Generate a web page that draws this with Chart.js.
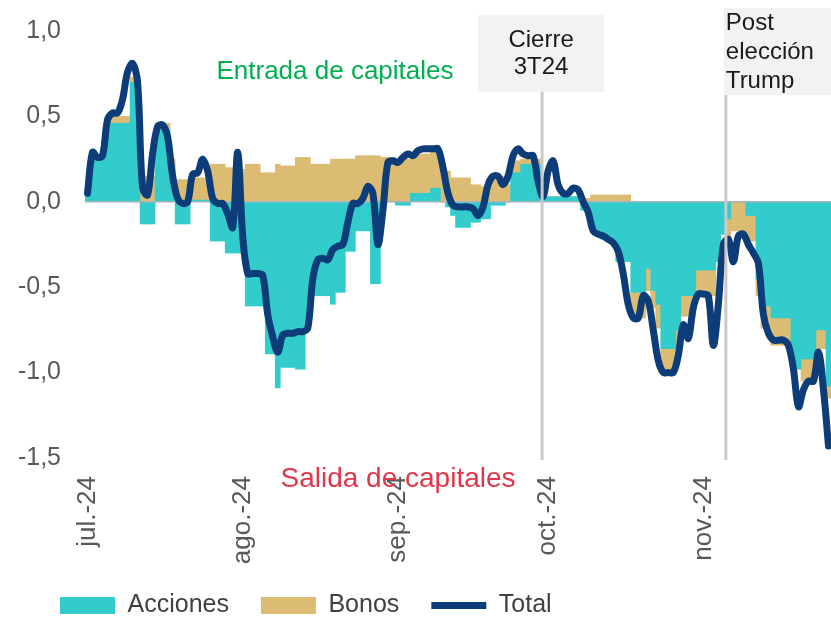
<!DOCTYPE html>
<html>
<head>
<meta charset="utf-8">
<script src="https://cdn.jsdelivr.net/npm/chart.js@4.4.0/dist/chart.umd.min.js"></script>
<style>
  html, body { margin: 0; padding: 0; background: #fff; }
  #wrap { width: 831px; height: 617px; position: relative; }
</style>
</head>
<body>
<div id="wrap"><canvas id="flujosChart"></canvas></div>
<script>
// Flujos diarios jul-24 a nov-24 (mm USD, escala del gráfico)
const etiquetasMes = ["jul.-24", "ago.-24", "sep.-24", "oct.-24", "nov.-24"];

const acciones = [
  // jul
  0.04, 0.27, 0.27, 0.27, 0.46, 0.46, 0.46, 0.46, 0.46, 0.70, 0.70, -0.13, -0.13, -0.13, 0.42, 0.42,
  0.42, 0.20, -0.13, -0.13, -0.13, 0.01, 0.01, 0.01, 0.01, -0.23, -0.23, -0.23, -0.30, -0.30, -0.30,
  // ago
  -0.30, -0.61, -0.61, -0.61, -0.61, -0.89, -0.89, -1.09, -0.97, -0.97, -0.97, -0.98, -0.98, -0.74, -0.55, -0.55,
  -0.55, -0.55, -0.60, -0.53, -0.53, -0.29, -0.29, -0.17, -0.17, -0.17, -0.48, -0.48, 0, 0, 0,
  // sep
  -0.02, -0.02, -0.02, 0.05, 0.05, 0.05, 0.05, 0.08, 0.08, 0, -0.03, -0.08, -0.15, -0.15, -0.15,
  -0.12, -0.12, -0.10, -0.10, -0.02, -0.02, -0.02, 0, 0.17, 0.17, 0.22, 0.22, 0.22, 0.22, 0.03,
  // oct
  0.03, 0.03, 0.03, 0.03, 0.03, 0.03, 0.03, -0.05, -0.05, -0.18, -0.18, -0.22, -0.22, -0.22, -0.35, -0.35,
  -0.35, -0.53, -0.53, -0.53, -0.39, -0.52, -0.60, -0.86, -0.86, -0.86, -0.75, -0.55, -0.55, -0.55, -0.40,
  // nov
  -0.40, -0.40, -0.40, -0.35, -0.19, -0.10, 0, 0, 0, -0.08, -0.08, -0.45, -0.61, -0.61,
  -0.68, -0.68, -0.68, -0.68, -0.98, -0.98, -0.92, -0.92, -0.92, -0.75, -0.75, -1.08
];

const bonos = [
  // jul
  0, 0, 0, 0, 0.04, 0.04, 0.04, 0.04, 0.04, 0.03, 0.03, 0.15, 0.15, 0.15, 0.04, 0.04,
  0.04, 0.05, 0.13, 0.13, 0.13, 0.13, 0.13, 0.13, 0.13, 0.22, 0.22, 0.22, 0.20, 0.20, 0.19,
  // ago
  0.19, 0.22, 0.22, 0.22, 0.17, 0.17, 0.17, 0.22, 0.21, 0.21, 0.21, 0.26, 0.26, 0.26, 0.22, 0.22,
  0.22, 0.22, 0.25, 0.25, 0.25, 0.25, 0.25, 0.27, 0.27, 0.27, 0.27, 0.27, 0.26, 0.26, 0.26,
  // sep
  0.25, 0.25, 0.25, 0.23, 0.23, 0.23, 0.23, 0.23, 0.23, 0.18, 0.18, 0.14, 0.14, 0.14, 0.14,
  0.10, 0.10, 0.09, 0.09, 0.15, 0.15, 0.15, 0.10, 0.07, 0.07, 0.03, 0.03, 0.03, 0.03, 0,
  // oct
  0, 0, 0, 0, 0, 0, 0, 0.02, 0.02, 0.04, 0.04, 0.04, 0.04, 0.04, 0.04, 0.04,
  0.04, -0.15, -0.15, -0.15, -0.13, -0.10, -0.14, -0.13, -0.13, -0.13, -0.10, -0.12, -0.12, -0.12, -0.15,
  // nov
  -0.15, -0.15, -0.15, 0, 0, -0.12, -0.17, -0.17, -0.17, -0.15, -0.15, -0.10, -0.13, -0.13,
  -0.16, -0.16, -0.16, -0.16, 0, 0, -0.13, -0.13, -0.13, -0.11, -0.11, -0.07
];

const total = [
  // jul
  0.05, 0.29, 0.26, 0.27, 0.48, 0.52, 0.52, 0.60, 0.76, 0.81, 0.70, 0.08, 0.04, 0.28, 0.44, 0.45,
  0.38, 0.15, 0.02, -0.01, 0.00, 0.16, 0.17, 0.25, 0.18, 0.02, -0.01, -0.01, -0.07, -0.15, 0.29,
  // ago
  -0.20, -0.42, -0.42, -0.42, -0.43, -0.66, -0.79, -0.88, -0.78, -0.77, -0.77, -0.76, -0.76, -0.74, -0.45, -0.34,
  -0.33, -0.34, -0.28, -0.26, -0.25, -0.12, -0.01, -0.01, 0.02, 0.09, 0.05, -0.25, -0.05, 0.23, 0.24,
  // sep
  0.23, 0.26, 0.28, 0.27, 0.30, 0.31, 0.31, 0.31, 0.31, 0.20, 0.05, -0.02, -0.03, -0.03, -0.03,
  -0.04, -0.08, -0.03, 0.10, 0.15, 0.15, 0.10, 0.15, 0.27, 0.31, 0.28, 0.27, 0.27, 0.12, 0.03,
  // oct
  0.18, 0.24, 0.10, 0.05, 0.05, 0.08, 0.07, 0.00, -0.06, -0.17, -0.19, -0.20, -0.22, -0.24, -0.29, -0.42,
  -0.60, -0.68, -0.68, -0.55, -0.58, -0.75, -0.93, -1.00, -1.00, -1.00, -0.90, -0.72, -0.80, -0.62, -0.54,
  // nov
  -0.54, -0.55, -0.84, -0.60, -0.25, -0.22, -0.35, -0.20, -0.19, -0.25, -0.30, -0.36, -0.66, -0.77,
  -0.81, -0.81, -0.81, -0.84, -0.98, -1.20, -1.10, -1.05, -1.05, -0.88, -1.10, -1.43
];

// una categoría por día natural desde el 1 de julio
const fechas = [];
for (let i = 0; i < total.length; i++) {
  const d = new Date(2024, 6, 1 + i);
  const mm = String(d.getMonth() + 1).padStart(2, "0");
  const dd = String(d.getDate()).padStart(2, "0");
  fechas.push(`2024-${mm}-${dd}`);
}

const FUENTE = "'Liberation Sans', Arial, sans-serif";
const idxCierre = fechas.indexOf("2024-09-30");
const idxPost = fechas.indexOf("2024-11-05");

/**
 * Líneas de referencia, cajas de texto y rótulos de entrada/salida.
 */
const anotaciones = {
  id: "anotaciones",
  afterLayout(chart) {
    // leyenda desplazada: empieza en x=60 y algo más abajo
    if (chart.legend) {
      chart.legend.left = 28;
      chart.legend.top = 561;
    }
  },
  afterDatasetDraw(chart, args) {
    if (args.index !== 0) return;
    const { ctx, chartArea, scales } = chart;
    const y0 = scales.y.getPixelForValue(0);
    ctx.save();
    ctx.strokeStyle = "#a9b3bc";
    ctx.lineWidth = 1.5;
    ctx.beginPath();
    ctx.moveTo(chartArea.left, y0);
    ctx.lineTo(chartArea.right, y0);
    ctx.stroke();
    ctx.restore();
  },
  afterDatasetsDraw(chart) {
    const { ctx, chartArea, scales } = chart;
    const x = scales.x;
    const paso = x.getPixelForValue(1) - x.getPixelForValue(0);
    const xCierre = x.getPixelForValue(idxCierre) - 1;
    const xPost = x.getPixelForValue(idxPost) + paso / 2;

    ctx.save();
    // líneas verticales
    ctx.strokeStyle = "#c9c9c9";
    ctx.lineWidth = 3;
    ctx.beginPath();
    ctx.moveTo(xCierre, 92);
    ctx.lineTo(xCierre, chartArea.bottom + 2);
    ctx.moveTo(xPost, 95);
    ctx.lineTo(xPost, chartArea.bottom + 2);
    ctx.stroke();

    // cajas
    ctx.fillStyle = "#f2f2f2";
    ctx.fillRect(xCierre - 64, 15, 126, 77);
    ctx.fillRect(xPost - 2, 8, chart.width - xPost + 2, 87);

    ctx.fillStyle = "#1a1a1a";
    ctx.font = `24px ${FUENTE}`;
    ctx.textBaseline = "middle";
    ctx.textAlign = "center";
    ctx.fillText("Cierre", xCierre - 1, 40);
    ctx.fillText("3T24", xCierre - 1, 67);
    ctx.textAlign = "left";
    ctx.fillText("Post", xPost, 23);
    ctx.fillText("elección", xPost, 52);
    ctx.fillText("Trump", xPost, 81);

    // rótulos
    ctx.textAlign = "center";
    ctx.font = `26px ${FUENTE}`;
    ctx.fillStyle = "#00b050";
    ctx.fillText("Entrada de capitales", 335, 72);
    ctx.font = `28px ${FUENTE}`;
    ctx.fillStyle = "#e2364a";
    ctx.fillText("Salida de capitales", 398, 479);
    ctx.restore();
  },
};

const ctx = document.getElementById("flujosChart").getContext("2d");
new Chart(ctx, {
  type: "bar",
  data: {
    labels: fechas,
    datasets: [
      {
        label: "Acciones",
        data: acciones,
        backgroundColor: "#33cccc",
        stack: "flujos",
        order: 1,
        pointStyle: "rect",
      },
      {
        label: "Bonos",
        data: bonos,
        backgroundColor: "#dcbb73",
        stack: "flujos",
        order: 2,
        pointStyle: "rect",
      },
      {
        type: "line",
        label: "Total",
        data: total,
        borderColor: "#0d3d78",
        backgroundColor: "#0d3d78",
        borderWidth: 7,
        borderCapStyle: "round",
        borderJoinStyle: "round",
        pointRadius: 0,
        tension: 0.35,
        stack: "total",
        order: 0,
        pointStyle: "line",
      },
    ],
  },
  options: {
    responsive: true,
    maintainAspectRatio: false,
    animation: false,
    layout: { padding: { top: 24, left: 0, right: 0, bottom: 0 } },
    datasets: {
      bar: { barPercentage: 1, categoryPercentage: 1, borderWidth: 0 },
    },
    scales: {
      x: {
        stacked: true,
        grid: { display: false, drawTicks: false },
        border: { display: false },
        ticks: {
          autoSkip: false,
          minRotation: 90,
          maxRotation: 90,
          padding: 18,
          color: "#595959",
          font: { family: FUENTE, size: 26 },
          callback: function (value) {
            const f = this.getLabelForValue(value);
            if (f.slice(8) !== "01") return null;
            return etiquetasMes[Number(f.slice(5, 7)) - 7];
          },
        },
        afterFit: (s) => {
          s.height = 110;
          s.paddingLeft = 0;
          s.paddingRight = 0;
        },
      },
      y: {
        stacked: true,
        min: -1.5,
        max: 1.0,
        grid: { display: false },
        border: { display: false },
        ticks: {
          stepSize: 0.5,
          padding: 16,
          color: "#595959",
          font: { family: FUENTE, size: 25 },
          callback: (v) => v.toFixed(1).replace(".", ","),
        },
        afterFit: (s) => {
          s.width = 85;
        },
      },
    },
    plugins: {
      legend: {
        position: "bottom",
        align: "start",
        maxHeight: 49,
        labels: {
          usePointStyle: true,
          pointStyleWidth: 55,
          boxHeight: 17,
          padding: 32,
          color: "#404040",
          font: { family: FUENTE, size: 25 },
          sort: (a, b) => a.datasetIndex - b.datasetIndex,
        },
      },
      tooltip: { enabled: false },
    },
  },
  plugins: [anotaciones],
});
</script>
</body>
</html>
